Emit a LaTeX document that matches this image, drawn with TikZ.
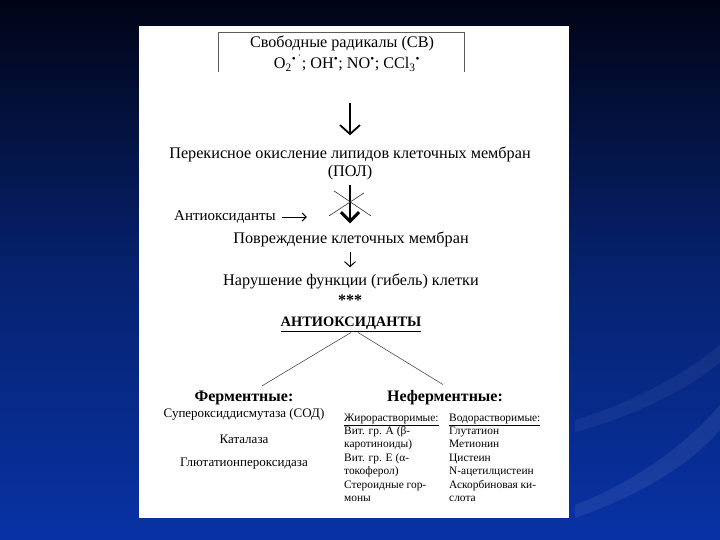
\documentclass[tikz,border=0pt]{standalone}
\usepackage{fontspec}
\setmainfont{Liberation Serif}
\usetikzlibrary{arrows.meta,calc}
\definecolor{bgtop}{RGB}{1,4,22}
\definecolor{bgmid}{RGB}{6,34,110}
\definecolor{bgbot}{RGB}{8,50,165}
\definecolor{boxline}{RGB}{90,90,90}
\tikzset{
  main/.style={inner sep=0pt, font=\fontsize{16.2}{19}\selectfont},
  side/.style={inner sep=0pt, font=\fontsize{15}{18}\selectfont},
  head/.style={inner sep=0pt, font=\fontsize{16}{19}\selectfont\bfseries},
  caps/.style={inner sep=0pt, font=\fontsize{14.4}{17}\selectfont\bfseries},
  itemtext/.style={inner sep=0pt, font=\fontsize{13}{15}\selectfont},
  coltext/.style={inner sep=0pt, font=\fontsize{11.4}{13.4}\selectfont, align=left, anchor=north west},
  bigarrow/.style={line width=1.6pt, -{Straight Barb[length=9pt,width=20pt,line width=1.8pt]}},
  crossarrow/.style={line width=1.4pt, -{Straight Barb[length=9pt,width=18pt,line width=3pt]}},
  smallarrow/.style={line width=0.9pt, -{Straight Barb[length=5pt,width=11pt,line width=1pt]}},
  textarrow/.style={line width=0.9pt, -{Straight Barb[length=4pt,width=8pt,line width=1pt]}},
  crossline/.style={line width=0.6pt, black!80},
  branch/.style={line width=0.6pt, black!70},
}
\begin{document}
\begin{tikzpicture}[x=1pt,y=-1pt]
\useasboundingbox (0,0) rectangle (720,540);
\shade[top color=bgtop, bottom color=bgbot, middle color=bgmid] (0,0) rectangle (720,540);
% faint swoosh of the slide background
\fill[white, opacity=0.07] (575,505) .. controls (640,480) and (690,440) .. (720,405) -- (720,430) .. controls (690,465) and (640,495) .. (575,518) -- cycle;
\fill[white, opacity=0.05] (575,420) .. controls (640,400) and (690,370) .. (720,345) -- (720,362) .. controls (690,388) and (640,414) .. (575,432) -- cycle;
\fill[white] (139,26) rectangle (569,518);
% top box (open at the bottom)
\draw[boxline, line width=0.8pt] (218,72) -- (218,32) -- (464,32) -- (464,72);
\node[main] (sv) at (342,43) {Свободные радикалы (СВ)};
\node[main] (rad) at (347,63) {O\textsubscript{2}\textsuperscript{•\,˙}; OH\textsuperscript{•}; NO\textsuperscript{•}; CCl\textsubscript{3}\textsuperscript{•}};
\node[main] (pol1) at (350,154) {Перекисное окисление липидов клеточных мембран};
\node[main] (pol2) at (350,173) {(ПОЛ)};
\node[side, anchor=west] (ao) at (174,217) {Антиоксиданты};
\node[main] (pov) at (351,239) {Повреждение клеточных мембран};
\node[main] (nar) at (351,281) {Нарушение функции (гибель) клетки};
\node[head] (stars) at (350,300) {***};
\node[caps] (AO) at (351,324) {\underline{АНТИОКСИДАНТЫ}};
\node[head] (ferm) at (244,398) {Ферментные:};
\node[head] (neferm) at (445,398) {Неферментные:};
\node[itemtext] (sod) at (244,414) {Супероксиддисмутаза (СОД)};
\node[itemtext] (kat) at (244,439) {Каталаза};
\node[itemtext] (glu) at (244,464) {Глютатионпероксидаза};
\node[coltext] (zhir) at (344,413.5) {\underline{Жирорастворимые:}\\Вит. гр. А (β-\\каротиноиды)\\Вит. гр. Е (α-\\токоферол)\\Стероидные гор-\\моны};
\node[coltext] (vod) at (449,413.5) {\underline{Водорастворимые:}\\Глутатион\\Метионин\\Цистеин\\N-ацетилцистеин\\Аскорбиновая ки-\\слота};
% connectors
\draw[bigarrow] ($(pol1.north)+(0,-43)$) -- ($(pol1.north)+(0,-11)$);
\draw[crossarrow] ($(pol2.south)+(0,4)$) coordinate (xs) -- ($(pov.north)+(-1,-8)$) coordinate (xe);
\coordinate (xm) at ($(xs)!0.5!(xe)$);
\draw[crossline] ($(xm)+(-16,-13)$) -- ($(xm)+(21,12)$);
\draw[crossline] ($(xm)+(14,-11)$) -- ($(xm)+(-21,12)$);
\draw[textarrow] ($(ao.east)+(6,0)$) -- ($(ao.east)+(31,0)$);
\draw[smallarrow] ($(pov.south)+(-1,5)$) -- ($(nar.north)+(-1,-6)$);
\draw[branch] ($(AO.south)+(0,1)$) -- ($(ferm.north)+(18,-5)$);
\draw[branch] ($(AO.south)+(7,1)$) -- ($(neferm.north)+(-2,-6)$);
\end{tikzpicture}
\end{document}
